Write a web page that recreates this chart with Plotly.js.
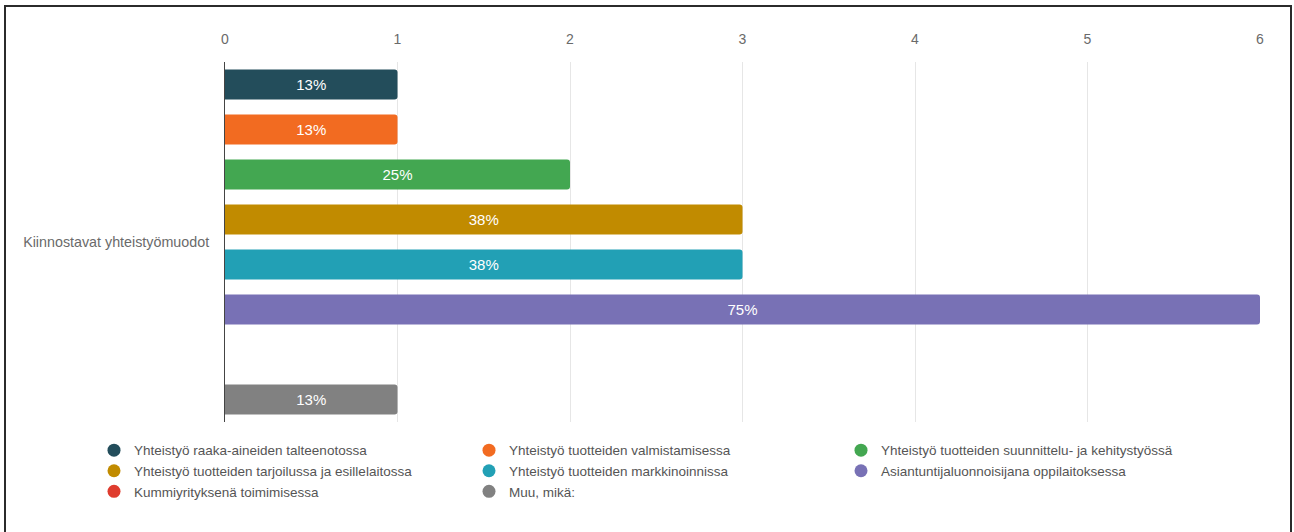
<!DOCTYPE html>
<html>
<head>
<meta charset="utf-8">
<script src="https://cdn.plot.ly/plotly-3.0.1.min.js"></script>
<style>
  html, body { margin: 0; padding: 0; background: #fff; }
  #wrap { position: relative; width: 1294px; height: 532px; overflow: hidden; }
  #chart { position: absolute; left: 0; top: 0; width: 1294px; height: 532px; }
  #frame { position: absolute; left: 4px; top: 5px; width: 1288px; height: 540px;
           border: 2px solid #2b2b2b; pointer-events: none; box-sizing: border-box; }
</style>
</head>
<body>
<div id="wrap">
  <div id="chart"></div>
  <div id="frame"></div>
</div>
<script>
const categories = ['Kiinnostavat yhteistyömuodot'];
const seriesNames = [
  'Yhteistyö raaka-aineiden talteenotossa',
  'Yhteistyö tuotteiden valmistamisessa',
  'Yhteistyö tuotteiden suunnittelu- ja kehitystyössä',
  'Yhteistyö tuotteiden tarjoilussa ja esillelaitossa',
  'Yhteistyö tuotteiden markkinoinnissa',
  'Asiantuntijaluonnoisijana oppilaitoksessa',
  'Kummiyrityksenä toimimisessa',
  'Muu, mikä:'
];
const seriesValues = [1, 1, 2, 3, 3, 6, 0, 1];
const seriesLabels = ['13%', '13%', '25%', '38%', '38%', '75%', '', '13%'];
const seriesColors = ['#234d5b', '#f26b21', '#43a751', '#c18b00', '#22a0b5', '#7871b5', '#df3c2e', '#818181'];
const xTicks = [0, 1, 2, 3, 4, 5, 6];

const FONT = 'Arial, "Liberation Sans", sans-serif';
const legendIds = ['legend', 'legend2', 'legend3'];
const traces = [];
seriesNames.forEach((name, i) => {
  traces.push({
    type: 'bar',
    orientation: 'h',
    name: name,
    x: [seriesValues[i]],
    y: categories,
    text: [seriesLabels[i]],
    textposition: 'inside',
    insidetextanchor: 'middle',
    textangle: 0,
    textfont: { family: FONT, size: 15, color: '#ffffff' },
    marker: { color: seriesColors[i], line: { width: 0 } },
    legendgroup: 'g' + i,
    showlegend: false,
    hoverinfo: 'none'
  });
});
seriesNames.forEach((name, i) => {
  traces.push({
    type: 'scatter',
    mode: 'markers',
    name: name,
    x: [null],
    y: [null],
    marker: { color: seriesColors[i], size: 13, symbol: 'circle' },
    legendgroup: 'g' + i,
    legend: legendIds[i % 3],
    showlegend: true,
    hoverinfo: 'none'
  });
});

function legendAt(xpx) {
  return {
    orientation: 'v',
    xref: 'container',
    yref: 'container',
    x: xpx / 1294,
    xanchor: 'left',
    y: 0.1825,
    yanchor: 'top',
    tracegroupgap: 0,
    itemclick: false,
    itemdoubleclick: false,
    font: { family: FONT, size: 13.5, color: '#555555' },
    bgcolor: 'rgba(0,0,0,0)'
  };
}

const layout = {
  width: 1294,
  height: 532,
  margin: { l: 225, r: 34, t: 62, b: 110, autoexpand: false },
  paper_bgcolor: '#ffffff',
  plot_bgcolor: '#ffffff',
  font: { family: FONT, size: 13, color: '#555555' },
  barmode: 'group',
  bargap: 0,
  bargroupgap: 0.333,
  barcornerradius: 3,
  showlegend: true,
  xaxis: {
    side: 'top',
    range: [0, 6],
    tickvals: xTicks,
    ticktext: xTicks.map(String),
    showgrid: true,
    gridcolor: '#e6e6e6',
    gridwidth: 1,
    zeroline: false,
    showline: false,
    ticks: '',
    ticklabelstandoff: 14,
    tickfont: { family: FONT, size: 14, color: '#6a6a6a' },
    fixedrange: true
  },
  yaxis: {
    type: 'category',
    autorange: 'reversed',
    showgrid: false,
    zeroline: false,
    showline: true,
    linecolor: '#444444',
    linewidth: 1,
    ticks: '',
    ticklabelstandoff: 12,
    tickfont: { family: FONT, size: 14.3, color: '#6a6a6a' },
    fixedrange: true
  },
  legend: legendAt(94),
  legend2: legendAt(469),
  legend3: legendAt(841)
};

Plotly.newPlot('chart', traces, layout, { displayModeBar: false, staticPlot: true });
</script>
</body>
</html>
